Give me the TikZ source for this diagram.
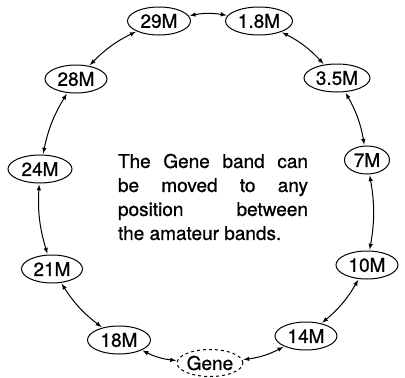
\documentclass[tikz,border=0pt]{standalone}
\usepackage{fontspec}
\setmainfont{TeX Gyre Heros}[FakeBold=0.8]
\usetikzlibrary{shapes.geometric}
\newlength{\bandtw}
\setlength{\bandtw}{190pt}
\begin{document}
\begin{tikzpicture}[x=1pt,y=-1pt]
            \useasboundingbox (0,0) rectangle (405,378);
            \tikzstyle{every picture}=[thick]
            \tikzstyle{every node}=[ellipse,draw,line width=1pt,inner sep=0pt,
              minimum height=28pt,font=\fontsize{19}{24}\selectfont]
            \tikzstyle{link}=[latex-latex,line width=1pt,shorten <=1pt,shorten >=1pt]
            \draw (159,21) node [minimum width=63pt] (m29) {29M};
            \draw (259,21) node [minimum width=67pt] (m18) {1.8M};
            \draw (337,78) node [minimum width=66pt] (m35) {3.5M};
            \draw (367,160) node [minimum width=45pt] (m7) {7M};
            \draw (367,265) node [minimum width=62pt] (m10) {10M};
            \draw (306,336) node [minimum width=62pt] (m14) {14M};
            \draw (210,363) node [minimum width=64pt,minimum height=27pt,dashed] (gene) {Gene};
            \draw (119,340) node [minimum width=63pt] (m18b) {18M};
            \draw (52,269) node [minimum width=61pt] (m21) {21M};
            \draw (40,169) node [minimum width=64pt] (m24) {24M};
            \draw (76,79) node [minimum width=62pt] (m28) {28M};
            \draw[link] (m29) to[bend left=10] (m18);
            \draw[link] (m18) to[bend left=10] (m35);
            \draw[link] (m35) to[bend left=10] (m7);
            \draw[link] (m7) to[bend left=10] (m10);
            \draw[link] (m10) to[bend left=10] (m14);
            \draw[link] (m14) to[bend left=10] (gene);
            \draw[link] (gene) to[bend left=10] (m18b);
            \draw[link] (m18b) to[bend left=10] (m21);
            \draw[link] (m21) to[bend left=10] (m24);
            \draw[link] (m24) to[bend left=10] (m28);
            \draw[link] (m28) to[bend left=10] (m29);
            \draw (213,197) node[draw=none,rectangle,inner sep=0pt,align=left] (note)
              {\makebox[\bandtw][s]{The Gene band can}\\
               \makebox[\bandtw][s]{be moved to any}\\
               \makebox[\bandtw][s]{position between}\\
               the amateur bands.};
        \end{tikzpicture}
\end{document}
